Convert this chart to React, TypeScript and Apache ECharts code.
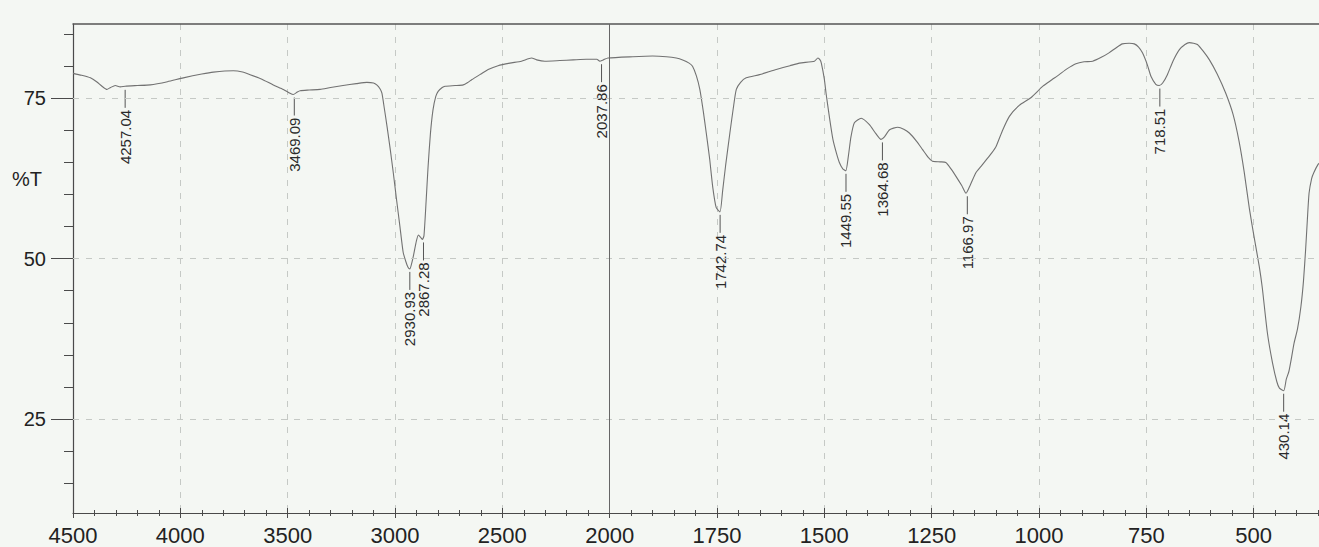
import React, { useEffect, useRef } from "react";
import * as echarts from "echarts";

// Spectrum trace: wavenumber (cm-1) and transmittance (%T)
const wavenumbers = [
  4500, 4460, 4419, 4390, 4365, 4342, 4325, 4303, 4280, 4257, 4200, 4140, 4060, 3986, 3900, 3846,
  3753, 3710, 3675, 3620, 3567, 3520, 3489, 3474, 3455, 3442, 3400, 3349, 3300, 3242, 3180, 3131,
  3100, 3085, 3070, 3061, 3050, 3037, 3022, 3008, 2992, 2977, 2962, 2950, 2940, 2931, 2922, 2915,
  2900, 2891, 2880, 2872, 2865, 2855, 2846, 2835, 2823, 2810, 2799, 2780, 2767, 2720, 2682, 2660,
  2643, 2600, 2566, 2520, 2465, 2411, 2364, 2340, 2302, 2232, 2170, 2108, 2060, 2046, 2030, 2008,
  1946, 1900, 1868, 1845, 1830, 1815, 1807, 1798, 1790, 1782, 1775, 1767, 1760, 1752, 1743, 1737,
  1730, 1720, 1712, 1705, 1695, 1682, 1651, 1612, 1580, 1558, 1523, 1515, 1510, 1507, 1500, 1496,
  1488, 1480, 1472, 1465, 1457, 1450, 1444, 1438, 1430, 1414, 1395, 1380, 1368, 1360, 1348, 1329,
  1315, 1302, 1285, 1271, 1258, 1248, 1230, 1217, 1205, 1193, 1180, 1170, 1160, 1147, 1135, 1123,
  1110, 1100, 1085, 1069, 1046, 1019, 991, 970, 953, 935, 914, 895, 875, 855, 837, 820,
  806, 790, 778, 768, 759, 748, 739, 728, 720, 712, 701, 688, 673, 660, 650, 640,
  631, 618, 603, 585, 565, 548, 534, 522, 510, 498, 487, 480, 468, 456, 446, 440,
  430, 424, 418, 412, 406, 398, 390, 384, 379, 375, 371, 365, 360, 350, 345
];
const transmittance = [
  78.9, 78.6, 78.2, 77.6, 76.9, 76.4, 76.7, 77.0, 76.8, 76.9, 77.0, 77.1, 77.6, 78.2, 78.8, 79.1,
  79.3, 79.1, 78.7, 78.0, 77.1, 76.4, 75.8, 75.6, 76.0, 76.2, 76.3, 76.4, 76.7, 77.0, 77.3, 77.5,
  77.4, 77.1, 76.5, 75.8, 73.5, 70.6, 67.0, 63.4, 59.0, 55.0, 51.0, 49.6, 48.7, 48.4, 49.3, 50.3,
  52.8, 53.7, 53.3, 53.0, 53.6, 59.0, 64.3, 69.5, 73.2, 75.3, 76.1, 76.7, 76.9, 77.0, 77.1, 77.5,
  77.9, 78.8, 79.5, 80.1, 80.5, 80.8, 81.3, 81.0, 80.8, 80.9, 81.0, 81.1, 81.1, 80.8, 81.0, 81.3,
  81.5, 81.6, 81.5, 81.3, 81.0, 80.5, 80.0, 78.5, 76.4, 73.0, 69.6, 65.5, 61.2, 58.0, 57.3, 60.5,
  64.5, 69.6, 73.5, 76.4, 77.5, 78.2, 78.7, 79.5, 80.1, 80.5, 80.8, 81.3, 81.0, 80.5, 78.0, 75.8,
  72.0, 68.6, 66.5, 65.0, 64.0, 63.7, 66.0, 69.0, 71.2, 71.9, 70.9, 69.5, 68.6, 69.0, 70.1, 70.5,
  70.2, 69.6, 68.3, 67.0, 65.8, 65.2, 65.1, 65.0, 64.0, 62.8, 61.4, 60.2, 61.5, 63.4, 64.4, 65.4,
  66.5, 67.5, 70.0, 72.2, 73.9, 75.1, 76.9, 77.9, 78.7, 79.6, 80.4, 80.7, 80.8, 81.4, 82.1, 82.9,
  83.5, 83.6, 83.5, 83.0, 82.1, 80.3, 78.4, 77.2, 77.0, 77.4, 78.7, 80.8, 82.6, 83.4, 83.7, 83.6,
  83.4, 82.4, 81.0, 78.8, 75.8, 72.5, 68.3, 63.5, 57.8, 53.0, 48.8, 45.5, 38.4, 33.7, 30.8, 29.8,
  29.4, 31.2, 32.4, 34.5, 36.8, 39.0, 42.5, 46.5, 51.4, 56.0, 60.2, 62.5, 63.4, 64.7, 65.0
];

// Labelled peaks
const peakLabels = [
  "4257.04", "3469.09", "2930.93", "2867.28", "2037.86", "1742.74",
  "1449.55", "1364.68", "1166.97", "718.51", "430.14"
];
const peakWavenumbers = [4257.04, 3469.09, 2930.93, 2867.28, 2037.86, 1742.74, 1449.55, 1364.68, 1166.97, 718.51, 430.14];
const peakTransmittance = [76.8, 75.6, 48.4, 53.0, 80.8, 57.3, 63.7, 68.6, 60.2, 77.0, 29.4];

// Axis ticks
const xLabelTicks = [4500, 4000, 3500, 3000, 2500, 2000, 1750, 1500, 1250, 1000, 750, 500];
const yLabelTicks = [25, 50, 75];
const yMinorTicks = [15, 20, 30, 35, 40, 45, 55, 60, 65, 70, 80, 85];
const yTitle = "%T";

// The instrument's x scale doubles below 2000 cm-1
const toAxis = (w: number) => (w >= 2000 ? 4500 - w : 2500 + 2 * (2000 - w));
const fromAxis = (u: number) => (u <= 2500 ? 4500 - u : 2000 - (u - 2500) / 2);

const FONT = "'Liberation Sans', Arial, sans-serif";

export default function App() {
  const ref = useRef<HTMLDivElement>(null);
  useEffect(() => {
    if (!ref.current) return;
    const chart = echarts.init(ref.current, null, { renderer: "svg" });
    const spectrum = wavenumbers.map((w, i) => [toAxis(w), transmittance[i]]);
    const peaks = peakWavenumbers.map((w, i) => [toAxis(w), peakTransmittance[i]]);
    const axisColor = "#4a4a4a";
    const gridColor = "#c5c9c5";
    const yMin = 10.33;
    const yMax = 86.6;
    chart.setOption({
      animation: false,
      backgroundColor: "#f4f7f3",
      grid: { left: 73, top: 24, right: -42, bottom: 34, outerBoundsMode: "none", containLabel: false },
      graphic: [
        {
          type: "text",
          left: 12,
          top: 169,
          style: { text: yTitle, fontSize: 20, fill: "#222", fontFamily: FONT },
        },
      ],
      xAxis: [
        {
          type: "value",
          position: "bottom",
          min: 0,
          max: 6000,
          interval: 500,
          axisLine: { show: true, onZero: false, lineStyle: { color: axisColor, width: 1.2 } },
          axisTick: { show: true, length: 5, lineStyle: { color: axisColor } },
          minorTick: { show: true, splitNumber: 5, length: 3, lineStyle: { color: axisColor } },
          splitLine: { show: true, lineStyle: { color: gridColor, type: [6, 7], width: 1 } },
          axisLabel: {
            customValues: xLabelTicks.map(toAxis),
            formatter: (v: number) => String(Math.round(fromAxis(v))),
            fontSize: 22,
            color: "#222",
            fontFamily: FONT,
            margin: 11,
          },
        },
        {
          type: "value",
          position: "bottom",
          min: 0,
          max: 6000,
          interval: 500,
          axisLine: { show: false, onZero: false },
          axisTick: { show: true, inside: true, length: 5, lineStyle: { color: axisColor } },
          minorTick: { show: true, splitNumber: 5, length: 3, lineStyle: { color: axisColor } },
          splitLine: { show: false },
          axisLabel: { show: false },
        },
        {
          type: "value",
          position: "top",
          min: 0,
          max: 6000,
          axisLine: { show: true, onZero: false, lineStyle: { color: "#555", width: 1.5 } },
          axisTick: { show: false },
          splitLine: { show: false },
          axisLabel: { show: false },
        },
      ],
      yAxis: [
        {
          type: "value",
          position: "left",
          min: yMin,
          max: yMax,
          axisLine: { show: true, onZero: false, lineStyle: { color: axisColor, width: 1.2 } },
          axisTick: { show: true, length: 22, customValues: yLabelTicks, lineStyle: { color: axisColor } },
          axisLabel: {
            customValues: yLabelTicks,
            fontSize: 20,
            color: "#222",
            fontFamily: FONT,
            margin: 27,
          },
          splitLine: { show: false },
        },
        {
          type: "value",
          position: "left",
          min: yMin,
          max: yMax,
          axisLine: { show: false, onZero: false },
          axisTick: { show: true, length: 9, customValues: yMinorTicks, lineStyle: { color: axisColor } },
          axisLabel: { show: false },
          splitLine: { show: false },
        },
      ],
      series: [
        {
          type: "line",
          xAxisIndex: 0,
          yAxisIndex: 0,
          data: spectrum,
          showSymbol: false,
          smooth: 0.2,
          lineStyle: { color: "#727272", width: 1.1 },
          markLine: {
            silent: true,
            symbol: ["none", "none"],
            label: { show: false },
            lineStyle: { color: gridColor, type: [6, 7], width: 1 },
            data: [
              { yAxis: 25 },
              { yAxis: 50 },
              { yAxis: 75 },
              { xAxis: toAxis(2000), lineStyle: { color: "#666", type: "solid", width: 1 } },
            ],
          },
          z: 3,
        },
        {
          type: "custom",
          xAxisIndex: 0,
          yAxisIndex: 0,
          data: peaks,
          z: 4,
          renderItem: (params: any, api: any) => {
            const p = api.coord([api.value(0), api.value(1)]);
            const label = peakLabels[params.dataIndex];
            return {
              type: "group",
              children: [
                {
                  type: "line",
                  shape: { x1: p[0], y1: p[1] + 3, x2: p[0], y2: p[1] + 21 },
                  style: { stroke: "#555", lineWidth: 1 },
                },
                {
                  type: "text",
                  x: p[0],
                  y: p[1] + 23,
                  rotation: Math.PI / 2,
                  style: {
                    text: label,
                    align: "right",
                    verticalAlign: "middle",
                    fontSize: 15,
                    fill: "#2a2a2a",
                    fontFamily: FONT,
                  },
                },
              ],
            };
          },
        },
      ],
    });
    return () => chart.dispose();
  }, []);
  return (
    <div
      ref={ref}
      style={{ position: "fixed", left: 0, top: 0, width: 1319, height: 547, background: "#f4f7f3" }}
    />
  );
}
